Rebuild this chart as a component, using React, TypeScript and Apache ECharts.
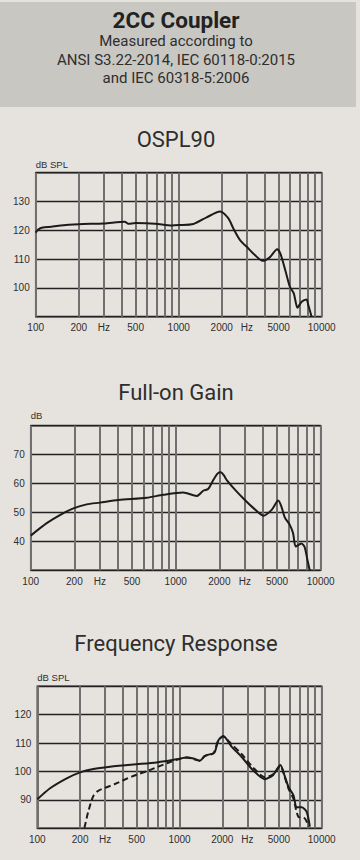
import React, { useEffect, useRef } from "react";
import * as echarts from "echarts";

// ---------- data ----------
const gridFreqs = [100, 200, 300, 400, 500, 600, 700, 800, 900, 1000, 2000, 3000, 4000, 5000, 6000, 7000, 8000, 9000, 10000];
const labelFreqs = [100, 200, 300, 500, 1000, 2000, 3000, 5000, 10000];
const hzLabelFreqs = [300, 3000];

const osplFreq = [100, 104, 112, 129, 144, 200, 300, 420, 444, 500, 686, 892, 1000, 1268, 1568, 1945, 2220, 2408, 2686, 3060, 3410, 3860, 4330, 4880, 5150, 5600, 5990, 6380, 6770, 7240, 7840, 8050, 8500];
const osplValue = [119.2, 120.3, 121.0, 121.25, 121.6, 122.1, 122.4, 123.0, 122.3, 122.5, 122.3, 121.7, 121.8, 122.2, 124.5, 126.5, 124.2, 120.7, 116.6, 113.75, 111.4, 109.4, 110.6, 113.4, 111.8, 105.6, 100.4, 98.1, 93.1, 95.2, 96.0, 94.1, 90];

const gainFreq = [100, 129, 159, 199, 243, 300, 402, 632, 821, 1127, 1396, 1548, 1673, 1816, 1950, 2050, 2150, 2250, 2570, 3000, 3440, 4030, 4590, 5100, 5360, 5650, 6120, 6450, 6730, 7360, 7750, 8100, 8400];
const gainValue = [42.0, 46.3, 49.1, 51.5, 52.8, 53.4, 54.3, 55.1, 56.1, 56.9, 55.7, 57.5, 58.1, 61.2, 63.5, 63.9, 62.8, 61.2, 57.8, 54.3, 51.5, 48.9, 50.9, 54.1, 52.0, 48.3, 45.7, 42.8, 38.2, 39.3, 38.0, 33.6, 30];

const respFreq = [100, 123, 161, 200, 248, 324, 473, 690, 956, 1125, 1250, 1390, 1510, 1730, 1777, 1878, 2030, 2330, 2730, 3280, 3970, 4560, 5120, 5460, 5840, 6320, 6680, 7220, 7840, 8250];
const respValue = [90.2, 94.1, 97.6, 99.7, 100.9, 101.7, 102.5, 103.2, 104.3, 104.9, 104.6, 103.8, 105.5, 106.4, 107, 111, 112.5, 108.7, 105.2, 100.5, 97.3, 98.8, 102.3, 98.8, 94.6, 91.7, 87.4, 87.4, 85.8, 80.6];

const respDashFreq = [205, 214, 228, 248, 268, 352, 461, 603, 835, 981, 1125, 1390, 1510, 1730, 1878, 2030, 2330, 2730, 3280, 3970, 4560, 5120, 5460, 5840, 6320, 6850, 7600, 8100];
const respDashValue = [77, 80, 85.8, 91.4, 93.2, 95.6, 98.2, 100.3, 103.1, 104.3, 104.9, 103.8, 105.5, 106.4, 111, 112.3, 109.5, 106.2, 101.5, 98.0, 99, 102, 98.5, 94, 90.5, 84.1, 83.5, 80.6];

const headerTitle = "2CC Coupler";
const headerLines = ["Measured according to", "ANSI S3.22-2014, IEC 60118-0:2015", "and IEC 60318-5:2006"];
const chartTitles = ["OSPL90", "Full-on Gain", "Frequency Response"];
const unitLabels = ["dB SPL", "dB", "dB SPL"];
const yRanges = [[90, 140], [30, 80], [80, 130]];

// ---------- layout ----------
const grids = [
  { left: 35.7, top: 172.7, width: 286, height: 144 },
  { left: 30.7, top: 425.7, width: 290, height: 144.6 },
  { left: 37.3, top: 686.3, width: 284.4, height: 142 },
];
const titleY = [139, 392, 643];
const unitY = [164, 415, 677];

const BG = "#e6e3de";
const HEADER_BG = "#c9c7c2";
const TEXT = "#2e2e2e";
const SMALL_FONT = "'Liberation Sans', Arial, sans-serif";
const TITLE_FONT = "Roboto, 'Noto Sans', sans-serif";

const pairs = (f: number[], v: number[]) => f.map((x, i) => [Math.log10(x), v[i]]);

export default function App() {
  const ref = useRef<HTMLDivElement>(null);

  useEffect(() => {
    document.body.style.margin = "0";
    document.body.style.background = BG;
    if (!ref.current) return;
    const chart = echarts.init(ref.current, undefined, { renderer: "svg" });

    const xAxes = grids.map((_, i) => ({
      type: "value",
      gridIndex: i,
      min: 2,
      max: 4,
      axisLine: { show: false },
      axisTick: { show: false, customValues: gridFreqs.map((f) => Math.log10(f)) },
      splitLine: { show: true, lineStyle: { color: "#707070", width: 2 } },
      axisLabel: {
        customValues: labelFreqs.map((f) => Math.log10(f)),
        formatter: (v: number) => {
          const f = Math.round(Math.pow(10, v));
          return hzLabelFreqs.includes(f) ? "Hz" : String(f);
        },
        color: TEXT,
        fontSize: 10,
        fontFamily: SMALL_FONT,
        margin: 6,
      },
    }));

    const yAxes = grids.map((_, i) => ({
      type: "value",
      gridIndex: i,
      min: yRanges[i][0],
      max: yRanges[i][1],
      interval: 10,
      axisLine: { show: false },
      axisTick: { show: false },
      splitLine: { show: true, lineStyle: { color: "#222", width: 1.3 } },
      axisLabel: {
        formatter: (v: number) => (v === yRanges[i][0] || v === yRanges[i][1] ? "" : String(v)),
        color: TEXT,
        fontSize: 10,
        fontFamily: SMALL_FONT,
        margin: 6,
      },
    }));

    const lineStyle = { color: "#1b1b1b", width: 2 };
    const series: any[] = [
      { type: "line", xAxisIndex: 0, yAxisIndex: 0, data: pairs(osplFreq, osplValue), showSymbol: false, symbol: "none", smooth: 0.25, lineStyle, z: 5 },
      { type: "line", xAxisIndex: 1, yAxisIndex: 1, data: pairs(gainFreq, gainValue), showSymbol: false, symbol: "none", smooth: 0.25, lineStyle, z: 5 },
      { type: "line", xAxisIndex: 2, yAxisIndex: 2, data: pairs(respFreq, respValue), showSymbol: false, symbol: "none", smooth: 0.25, lineStyle, z: 5 },
      { type: "line", xAxisIndex: 2, yAxisIndex: 2, data: pairs(respDashFreq, respDashValue), showSymbol: false, symbol: "none", smooth: 0.25, lineStyle: { color: "#1b1b1b", width: 2, type: [6, 3.5] }, z: 5 },
    ];

    const graphic: any[] = [
      { type: "rect", shape: { x: 0, y: 2, width: 356, height: 105 }, style: { fill: HEADER_BG }, z: -10 },
      { type: "text", x: 176, y: 19.5, style: { text: headerTitle, font: `bold 22.5px ${TITLE_FONT}`, fill: "#222", textAlign: "center", textVerticalAlign: "middle" } },
      ...headerLines.map((t, i) => ({ type: "text", x: 176, y: [41, 59.5, 77.5][i], style: { text: t, font: `15px ${TITLE_FONT}`, fill: TEXT, textAlign: "center", textVerticalAlign: "middle" } })),
      ...chartTitles.map((t, i) => ({ type: "text", x: 176, y: titleY[i], style: { text: t, font: `22px ${TITLE_FONT}`, fill: TEXT, textAlign: "center", textVerticalAlign: "middle" } })),
      ...unitLabels.map((t, i) => ({ type: "text", x: grids[i].left, y: unitY[i], style: { text: t, font: `9.5px ${SMALL_FONT}`, fill: TEXT, textAlign: "left", textVerticalAlign: "middle" } })),
    ];

    chart.setOption({
      animation: false,
      backgroundColor: BG,
      grid: grids.map((g) => ({ ...g, show: true, borderColor: "#2a2a2a", borderWidth: 1.5, backgroundColor: "transparent" })),
      xAxis: xAxes,
      yAxis: yAxes,
      series,
      graphic,
    });

    return () => chart.dispose();
  }, []);

  return <div ref={ref} style={{ width: 360, height: 860 }} />;
}
